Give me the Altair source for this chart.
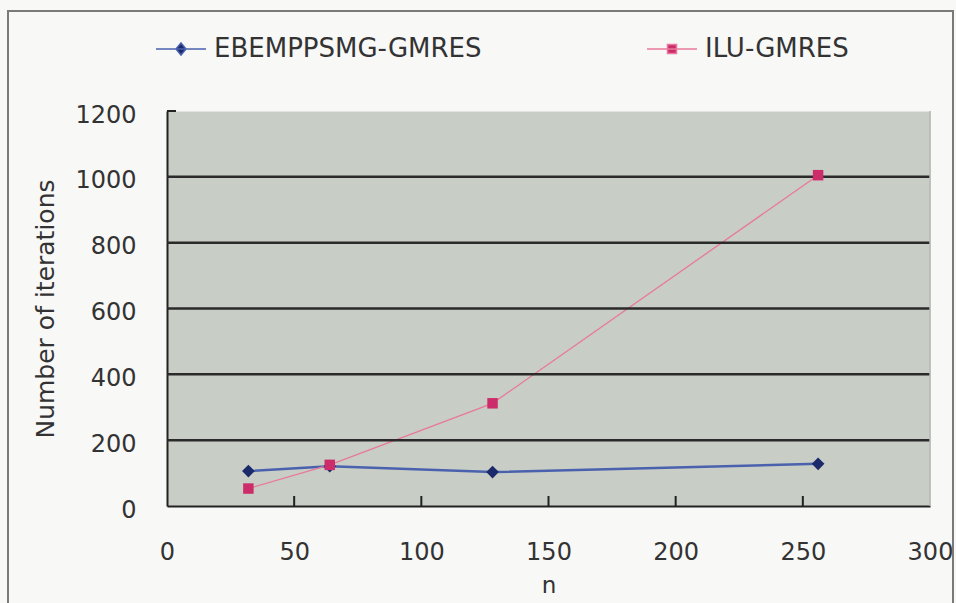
import altair as alt
import pandas as pd

# ---- data ----
n_values = [32, 64, 128, 256]
ebem_iters = [106, 121, 103, 128]
ilu_iters = [53, 125, 312, 1005]
series_names = ["EBEMPPSMG-GMRES", "ILU-GMRES"]
x_tick_values = [0, 50, 100, 150, 200, 250, 300]
y_tick_values = [0, 200, 400, 600, 800, 1000, 1200]
grid_values = [200, 400, 600, 800, 1000]
inner_x_ticks = [50, 100, 150, 200, 250]
top_y_tick = [1200]

line_colors = ["#4a62ae", "#e8799a"]
line_widths = [2.5, 1.3]
marker_colors = ["#1b2a6b", "#cc2d6a"]
marker_shapes = ["diamond", "square"]
marker_sizes = [160, 110]

W, H = 763, 395
FONT = "DejaVu Sans"
TXT = "#333333"

rows = []
for n, a, b in zip(n_values, ebem_iters, ilu_iters):
    rows.append({"n": n, "iters": a, "series": series_names[0]})
    rows.append({"n": n, "iters": b, "series": series_names[1]})
df = pd.DataFrame(rows)

x_scale = alt.Scale(domain=[0, 300], nice=False, zero=False)
y_scale = alt.Scale(domain=[0, 1200], nice=False)

x_axis = alt.Axis(values=x_tick_values, title="n", ticks=False, grid=False,
                  labelPadding=34, labelFontSize=24, titleFontSize=23,
                  titleFontWeight="normal", titleY=79, titleBaseline="middle",
                  labelFlush=False, format="d")
y_axis = alt.Axis(values=y_tick_values, title="Number of iterations", ticks=False,
                  grid=False, labelPadding=31, labelFontSize=24, labelOffset=4,
                  titleFontSize=25, titleFontWeight="normal", titleX=-122,
                  titleY=H / 2, titleBaseline="middle", titleAngle=270, format="d")

X = alt.X("n:Q", scale=x_scale, axis=x_axis)
Y = alt.Y("iters:Q", scale=y_scale, axis=y_axis)

diamond_path = "M-1,0L1,0M0,-0.24L0.2,0L0,0.24L-0.2,0Z"
square_path = "M-1,0L1,0M-0.18,-0.18L0.18,-0.18L0.18,0.18L-0.18,0.18Z"
is_ilu = f"datum.value === '{series_names[1]}'"

legend = alt.Legend(
    orient="none", legendX=-12, legendY=-88, direction="horizontal", title=None,
    symbolSize=2500, labelFontSize=26, labelFont=FONT, labelColor=TXT,
    labelOffset=7, columnPadding=162, symbolStrokeWidth=1.5, labelLimit=500,
    symbolType={"expr": f"{is_ilu} ? '{square_path}' : '{diamond_path}'"},
    symbolStrokeColor={"expr": f"{is_ilu} ? '{line_colors[1]}' : '{line_colors[0]}'"},
)
fill_scale = alt.Scale(domain=series_names, range=marker_colors)

layers = []
for i, name in enumerate(series_names):
    layers.append(
        alt.Chart(df).transform_filter(alt.datum.series == name)
        .mark_line(color=line_colors[i], strokeWidth=line_widths[i])
        .encode(x=X, y=Y)
    )

grid = alt.Chart(pd.DataFrame({"iters": grid_values})).mark_rule(
    color="#2a2a2a", strokeWidth=2.5
).encode(y=Y, x=alt.value(0), x2=alt.value(W))

xticks = alt.Chart(pd.DataFrame({"n": inner_x_ticks})).mark_rule(
    color="#222222", strokeWidth=2
).encode(x=X, y=alt.value(H), y2=alt.value(H - 10))

ytick = alt.Chart(pd.DataFrame({"iters": top_y_tick})).mark_rule(
    color="#222222", strokeWidth=2
).encode(y=Y, x=alt.value(0), x2=alt.value(9))

right_edge = alt.Chart(alt.Data(values=[{"k": 1}])).mark_rule(
    color="#b5b8b3", strokeWidth=1.5
).encode(x=alt.value(W), y=alt.value(0), y2=alt.value(H))

point_layers = []
for i, name in enumerate(series_names):
    point_layers.append(
        alt.Chart(df).transform_filter(alt.datum.series == name)
        .mark_point(filled=True, opacity=1, shape=marker_shapes[i], size=marker_sizes[i])
        .encode(x=X, y=Y, fill=alt.Fill("series:N", scale=fill_scale, legend=legend))
    )

frame = alt.Chart(alt.Data(values=[{"k": 1}])).mark_rect(
    fillOpacity=0, stroke="#7a7a7a", strokeWidth=2
).encode(x=alt.value(-159), x2=alt.value(786), y=alt.value(-100), y2=alt.value(500))

chart = alt.layer(*layers, grid, xticks, ytick, right_edge, *point_layers, frame).properties(
    width=W, height=H,
    padding={"left": 167, "top": 111, "right": 26, "bottom": 97},
    autosize=alt.AutoSizeParams(type="none"),
    background="#f8f8f7",
).configure_view(fill="#c8cdc5", stroke="transparent").configure_axis(
    labelFont=FONT, titleFont=FONT, labelColor=TXT, titleColor=TXT,
    domainColor="#222222", domainWidth=2,
)

chart.save("out.html", embed_options={"renderer": "svg", "actions": False})
